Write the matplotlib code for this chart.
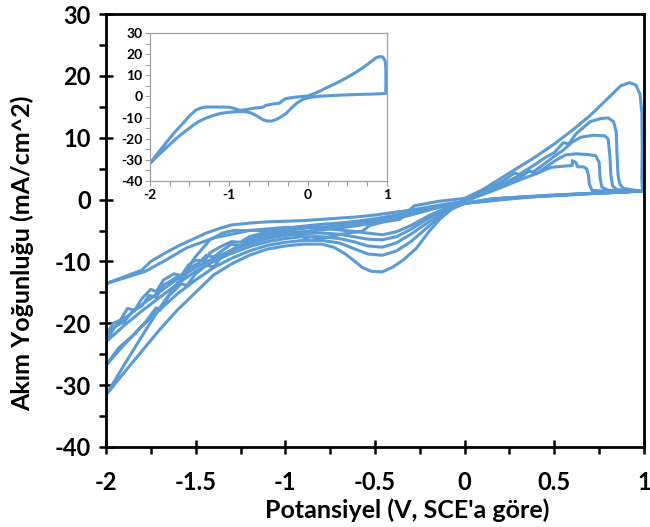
import matplotlib
matplotlib.use('Agg')
import matplotlib.pyplot as plt
from matplotlib.ticker import MultipleLocator, FuncFormatter

plt.rcParams['font.family'] = ['Lato', 'DejaVu Sans']
plt.rcParams['axes.unicode_minus'] = False

# ---------------- data (potential V vs SCE, current density mA/cm^2) ----------------
c1_v = [0.00, -0.07, -0.14, -0.20, -0.27, -0.34, -0.40, -0.46, -0.52, -0.57, -0.62, -0.67, -0.73, -0.80, -0.90,
        -1.00, -1.10, -1.20, -1.30, -1.40, -1.50, -1.60, -1.70, -1.80, -1.90, -2.00,
        -1.90, -1.80, -1.70, -1.58, -1.50, -1.42, -1.35, -1.29, -1.16, -1.00, -0.92, -0.86, -0.78, -0.69, -0.57,
        -0.53, -0.45, -0.36, -0.32, -0.28, -0.15, 0.00,
        0.10, 0.20, 0.30, 0.40, 0.50, 0.60, 0.70, 0.80, 0.87, 0.92, 0.955, 0.978, 0.988, 0.990, 0.988, 0.990, 1.00,
        0.90, 0.70, 0.50, 0.30, 0.15, 0.00]
c1_i = [-0.6, -1.5, -3.2, -5.2, -7.9, -9.7, -10.9, -11.7, -11.6, -11.0, -9.8, -8.7, -7.7, -7.2, -7.2,
        -7.5, -8.0, -9.0, -10.4, -12.2, -15.0, -17.8, -21.0, -24.5, -28.0, -31.6,
        -26.8, -22.1, -17.5, -12.6, -9.2, -6.5, -5.4, -5.0, -5.0, -5.1, -5.8, -6.6, -6.2, -5.6, -5.1,
        -4.2, -3.6, -3.2, -2.0, -1.0, -0.3, 0.2,
        1.6, 3.4, 5.2, 7.0, 9.0, 11.2, 13.6, 16.4, 18.4, 18.9, 18.5, 17.0, 14.0, 8.0, 3.5, 2.0, 1.5,
        1.2, 1.0, 0.75, 0.4, 0.1, -0.6]

c2_v = [0.00, -0.10, -0.20, -0.30, -0.38, -0.46, -0.54, -0.62, -0.70, -0.80, -0.90, -1.00, -1.10, -1.20, -1.30,
        -1.40, -1.50, -1.60, -1.70, -1.80, -1.90, -2.00,
        -1.93, -1.85, -1.78, -1.72, -1.70, -1.65, -1.58, -1.55, -1.50, -1.44, -1.40, -1.35, -1.28, -1.20, -1.12,
        -1.00, -0.90, -0.80, -0.70, -0.60, -0.50, -0.40, -0.30, -0.20, -0.10, 0.00,
        0.10, 0.20, 0.28, 0.30, 0.40, 0.45, 0.50, 0.55, 0.58, 0.62, 0.70, 0.76, 0.80, 0.83, 0.845, 0.850, 0.855,
        0.865, 0.885, 0.95, 1.00, 0.70, 0.40, 0.15, 0.00]
c2_i = [-0.6, -1.8, -4.3, -6.8, -8.3, -9.0, -8.8, -7.9, -7.0, -6.6, -6.6, -6.9, -7.4, -8.3, -9.5,
        -11.0, -13.0, -15.2, -17.8, -20.5, -23.5, -26.8,
        -24.0, -22.0, -19.8, -17.5, -17.9, -15.6, -13.6, -13.9, -12.0, -10.6, -10.9, -9.0, -7.8, -6.9, -6.0,
        -5.4, -5.2, -4.9, -4.6, -4.2, -3.8, -3.2, -2.5, -1.7, -0.9, -0.2,
        1.2, 2.8, 4.3, 4.0, 5.8, 6.8, 7.6, 9.2, 9.0, 10.6, 12.6, 13.1, 13.2, 12.6, 11.0, 7.0, 4.0,
        2.5, 1.8, 1.5, 1.4, 1.0, 0.5, 0.1, -0.6]

c3_v = [0.00, -0.10, -0.20, -0.30, -0.38, -0.46, -0.54, -0.62, -0.70, -0.80, -0.90, -1.00, -1.10, -1.20, -1.30,
        -1.40, -1.50, -1.60, -1.70, -1.80, -1.90, -2.00,
        -1.95, -1.90, -1.85, -1.80, -1.76, -1.72, -1.68, -1.64, -1.60, -1.57, -1.53, -1.48, -1.44, -1.40, -1.35,
        -1.30, -1.25, -1.20, -1.10, -1.00, -0.90, -0.85, -0.80, -0.70, -0.60, -0.50, -0.40, -0.30, -0.20, -0.10, 0.00,
        0.10, 0.20, 0.30, 0.35, 0.38, 0.45, 0.50, 0.55, 0.60, 0.65, 0.72, 0.78, 0.80, 0.810, 0.815, 0.825, 0.85,
        1.00, 0.60, 0.30, 0.00]
c3_i = [-0.6, -1.6, -3.6, -5.6, -7.0, -7.7, -7.5, -6.8, -6.3, -6.0, -6.0, -6.3, -6.8, -7.6, -8.7,
        -10.0, -11.6, -13.6, -15.8, -18.0, -20.4, -23.0,
        -20.5, -19.8, -18.0, -17.2, -15.5, -15.8, -13.8, -13.2, -12.4, -12.8, -11.0, -10.2, -9.0, -9.3, -8.2,
        -7.2, -7.5, -6.4, -5.6, -5.0, -4.7, -4.2, -4.5, -4.2, -3.8, -3.4, -2.9, -2.3, -1.6, -0.9, -0.3,
        1.0, 2.4, 3.8, 4.8, 4.4, 5.9, 7.0, 8.0, 9.3, 10.1, 10.4, 10.3, 9.8, 7.0, 4.0, 2.2, 1.6,
        1.4, 0.8, 0.3, -0.6]

c4_v = [0.00, -0.10, -0.20, -0.30, -0.38, -0.46, -0.54, -0.62, -0.70, -0.80, -0.90, -1.00, -1.10, -1.20, -1.30,
        -1.40, -1.50, -1.60, -1.70, -1.80, -1.90, -2.00,
        -1.96, -1.92, -1.88, -1.84, -1.80, -1.75, -1.72, -1.68, -1.62, -1.58, -1.54, -1.50, -1.45, -1.42, -1.36,
        -1.30, -1.25, -1.20, -1.10, -1.00, -0.90, -0.80, -0.70, -0.60, -0.50, -0.40, -0.30, -0.20, -0.10, 0.00,
        0.10, 0.20, 0.30, 0.36, 0.40, 0.45, 0.50, 0.56, 0.62, 0.68, 0.73, 0.750, 0.755, 0.765, 0.80, 1.00,
        0.50, 0.20, 0.00]
c4_i = [-0.6, -1.4, -3.0, -4.8, -6.0, -6.5, -6.4, -6.0, -5.6, -5.4, -5.5, -5.8, -6.3, -7.1, -8.2,
        -9.5, -11.0, -12.8, -14.9, -17.0, -19.3, -21.9,
        -20.0, -19.5, -17.6, -17.9, -16.0, -14.5, -14.9, -13.0, -12.0, -12.3, -10.6, -9.8, -9.9, -8.6, -7.6,
        -6.8, -6.9, -6.0, -5.2, -4.6, -4.3, -4.0, -3.8, -3.5, -3.1, -2.6, -2.1, -1.5, -0.8, -0.3,
        0.9, 2.1, 3.4, 4.6, 4.2, 5.2, 6.2, 7.2, 7.4, 7.3, 7.1, 6.0, 3.5, 2.0, 1.5, 1.4,
        0.7, 0.2, -0.6]

c5_v = [0.00, -0.10, -0.20, -0.30, -0.38, -0.46, -0.60, -0.80, -1.00, -1.20, -1.40, -1.55, -1.68, -1.78, -1.90, -2.00,
        -1.90, -1.80, -1.75, -1.68, -1.59, -1.50, -1.44, -1.36, -1.30, -1.20, -1.10, -1.00, -0.90, -0.80, -0.70,
        -0.60, -0.50, -0.40, -0.30, -0.20, -0.10, 0.00,
        0.10, 0.20, 0.30, 0.40, 0.48, 0.55, 0.60, 0.60, 0.62, 0.63, 0.66, 0.68, 0.690, 0.695, 0.71, 0.75, 1.00,
        0.40, 0.00]
c5_i = [-0.6, -1.3, -2.6, -4.2, -5.2, -5.7, -5.2, -4.6, -4.5, -5.0, -6.2, -7.8, -10.0, -11.6, -12.7, -13.6,
        -12.5, -11.4, -10.0, -8.8, -7.4, -6.2, -5.4, -4.6, -4.1, -3.8, -3.6, -3.5, -3.4, -3.2, -3.0,
        -2.8, -2.5, -2.1, -1.7, -1.2, -0.7, -0.3,
        0.8, 1.9, 3.1, 4.2, 5.2, 5.4, 5.5, 6.3, 6.0, 5.3, 5.3, 5.0, 4.0, 2.5, 1.5, 1.4, 1.4,
        0.5, -0.6]

cycles = [(c1_v, c1_i), (c2_v, c2_i), (c3_v, c3_i), (c4_v, c4_i), (c5_v, c5_i)]
inset_v, inset_i = c1_v, c1_i

x_ticks = [-2, -1.5, -1, -0.5, 0, 0.5, 1]
y_ticks = [-40, -30, -20, -10, 0, 10, 20, 30]
inset_x_ticks = [-2, -1, 0, 1]
inset_y_ticks = [-40, -30, -20, -10, 0, 10, 20, 30]

BLUE = '#5B9BD5'
fmt = FuncFormatter(lambda v, p: '%g' % v)

W, H = 650, 527
fig = plt.figure(figsize=(6.5, 5.27), dpi=100)
# main axes: x from px 106 to 644, y from px 14 to 447
ax = fig.add_axes([106 / W, 1 - 447 / H, 538 / W, 433 / H])
for v, i in cycles:
    ax.plot(v, i, color=BLUE, lw=2.2, solid_joinstyle='round', solid_capstyle='round')
ax.set_xlim(-2, 1)
ax.set_ylim(-40, 30)
ax.set_xticks(x_ticks)
ax.set_yticks(y_ticks)
ax.xaxis.set_minor_locator(MultipleLocator(0.25))
ax.yaxis.set_minor_locator(MultipleLocator(5))
ax.xaxis.set_major_formatter(fmt)
ax.yaxis.set_major_formatter(fmt)
ax.tick_params(which='major', direction='inout', length=10, width=1.8, labelsize=17)
ax.tick_params(which='minor', direction='out', length=5, width=1.8)
ax.tick_params(axis='x', which='major', pad=12)
ax.tick_params(axis='y', which='major', pad=6)
for lab in ax.get_xticklabels() + ax.get_yticklabels():
    lab.set_fontweight('bold')
for s in ax.spines.values():
    s.set_linewidth(2)

fig.text(407 / W, 1 - 510 / H, "Potansiyel (V, SCE'a göre)", fontsize=18, fontweight='bold',
         ha='center', va='center')
fig.text(22 / W, 1 - 253 / H, "Akım Yoğunluğu (mA/cm^2)", fontsize=18, fontweight='bold',
         ha='center', va='center', rotation=90)

# inset
ax2 = fig.add_axes([150 / W, 1 - 181 / H, 236.7 / W, 148 / H])
ax2.plot(inset_v, inset_i, color=BLUE, lw=2.2, solid_joinstyle='round')
ax2.set_xlim(-2, 1)
ax2.set_ylim(-40, 30)
ax2.set_xticks(inset_x_ticks)
ax2.set_yticks(inset_y_ticks)
ax2.xaxis.set_minor_locator(MultipleLocator(0.25))
ax2.yaxis.set_minor_locator(MultipleLocator(5))
ax2.xaxis.set_major_formatter(fmt)
ax2.yaxis.set_major_formatter(fmt)
ax2.tick_params(which='both', direction='out', length=3.5, width=0.8, color='#A0A0A0', labelsize=10, pad=2)
for lab in ax2.get_xticklabels() + ax2.get_yticklabels():
    lab.set_fontweight('bold')
for s in ax2.spines.values():
    s.set_linewidth(0.9)
    s.set_color('#A0A0A0')

fig.savefig('out.png', dpi=100)
